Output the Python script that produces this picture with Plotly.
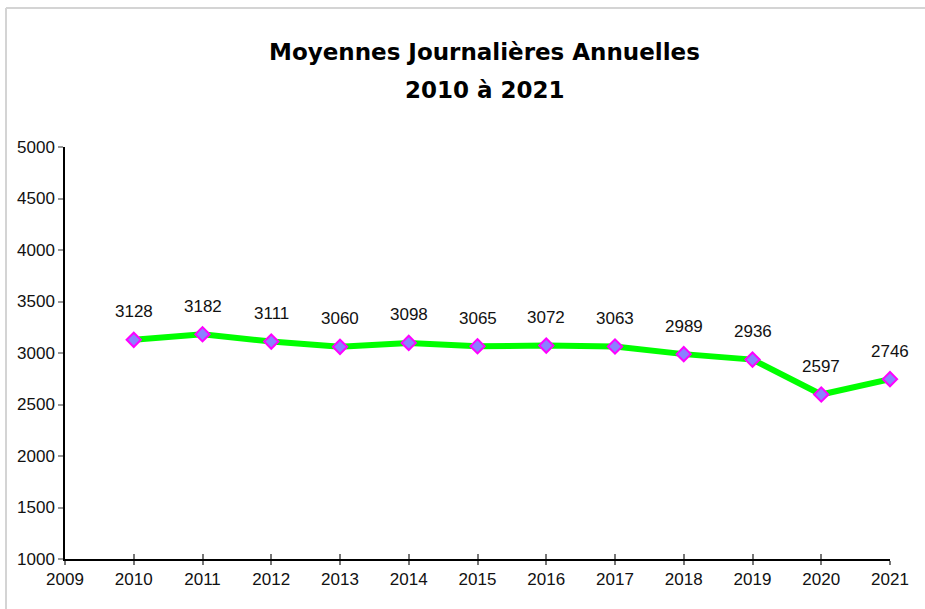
import plotly.graph_objects as go

# Données
annees = [2010, 2011, 2012, 2013, 2014, 2015, 2016, 2017, 2018, 2019, 2020, 2021]
moyennes = [3128, 3182, 3111, 3060, 3098, 3065, 3072, 3063, 2989, 2936, 2597, 2746]
x_ticks = list(range(2009, 2022))
y_ticks = list(range(1000, 5001, 500))
titre = ['Moyennes Journalières Annuelles', '2010 à 2021']

fig = go.Figure()

fig.add_trace(go.Scatter(
    x=annees,
    y=moyennes,
    mode='lines+markers',
    line=dict(color='#00ff00', width=6),
    marker=dict(symbol='diamond', size=11, color='#8a80ff',
                line=dict(color='#ff00ff', width=2)),
    cliponaxis=False,
    showlegend=False,
))

# trace vide pour l'axe superposé (graduations intérieures)
fig.add_trace(go.Scatter(x=[2009], y=[1000], xaxis='x2', mode='markers',
                         marker=dict(opacity=0), showlegend=False, hoverinfo='skip'))

# étiquettes de valeurs au-dessus des points
for a, v in zip(annees, moyennes):
    fig.add_annotation(x=a, y=v, text=str(v), showarrow=False,
                       yshift=28, font=dict(size=17, color='#111111'))

# titre sur deux lignes
for i, ligne in enumerate(titre):
    fig.add_annotation(text='<b>%s</b>' % ligne, xref='paper', yref='paper',
                       x=420 / 825, y=(559 - 52 - 38 * i) / 412,
                       showarrow=False, xanchor='center', yanchor='middle',
                       font=dict(family='DejaVu Sans', size=23, color='black'))

fig.update_layout(
    width=925,
    height=609,
    margin=dict(l=65, r=35, t=147, b=50),
    paper_bgcolor='white',
    plot_bgcolor='white',
    font=dict(family='Liberation Sans, Arial', size=17, color='#111111'),
    xaxis=dict(
        range=[2009, 2021], tickvals=x_ticks, showgrid=False, zeroline=False,
        showline=True, linecolor='black', linewidth=1.5,
        ticks='outside', ticklen=4, tickcolor='#777777', tickwidth=1.5,
    ),
    xaxis2=dict(
        range=[2009, 2021], tickvals=x_ticks, overlaying='x', side='bottom',
        showticklabels=False, showgrid=False, zeroline=False,
        ticks='inside', ticklen=5, tickcolor='#777777', tickwidth=1.5,
    ),
    yaxis=dict(
        range=[1000, 5000], tickvals=y_ticks, showgrid=False, zeroline=False,
        showline=True, linecolor='black', linewidth=1.5,
        ticks='outside', ticklen=5, tickcolor='#999999', tickwidth=1.5,
    ),
)

# bordure grise du cadre (gauche et haut)
fig.add_shape(type='line', xref='paper', yref='paper',
              x0=-59 / 825, x1=-59 / 825, y0=551 / 412, y1=-50 / 412,
              line=dict(color='#d4d4d4', width=2))
fig.add_shape(type='line', xref='paper', yref='paper',
              x0=-59 / 825, x1=860 / 825, y0=551 / 412, y1=551 / 412,
              line=dict(color='#d4d4d4', width=2))

fig.write_html("out.html", config={'displayModeBar': False},
               post_script="document.body.style.margin='0';")
